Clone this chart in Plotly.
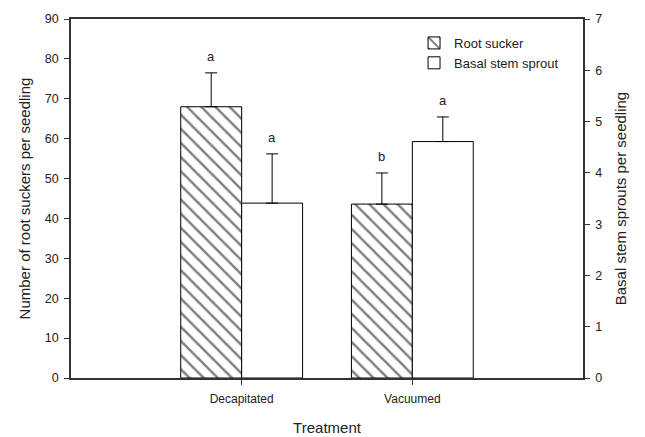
import plotly.graph_objects as go

treatments = ["Decapitated", "Vacuumed"]
root_sucker = [68.0, 43.6]
root_sucker_err = [8.5, 7.8]
root_sucker_letters = ["a", "b"]
basal_sprout = [3.41, 4.61]
basal_sprout_err = [0.96, 0.48]
basal_sprout_letters = ["a", "a"]

W = 0.357
font_family = "Liberation Sans, Arial, sans-serif"
axis_col = "#333333"

fig = go.Figure()
fig.add_trace(go.Bar(
    x=treatments, y=root_sucker, name="Root sucker",
    width=W, offset=-W, yaxis="y",
    marker=dict(color="white", line=dict(color="black", width=1),
                pattern=dict(shape="\\", fgcolor="black", bgcolor="white",
                             size=10, solidity=0.25)),
    error_y=dict(type="data", array=root_sucker_err,
                 arrayminus=[0] * len(root_sucker_err), symmetric=False,
                 color="black", thickness=1, width=6),
))
fig.add_trace(go.Bar(
    x=treatments, y=basal_sprout, name="Basal stem sprout",
    width=W, offset=0, yaxis="y2",
    marker=dict(color="white", line=dict(color="black", width=1)),
    error_y=dict(type="data", array=basal_sprout_err,
                 arrayminus=[0] * len(basal_sprout_err), symmetric=False,
                 color="black", thickness=1, width=6),
))

annotations = []
for i, (v, e, t) in enumerate(zip(root_sucker, root_sucker_err, root_sucker_letters)):
    annotations.append(dict(x=i - W / 2, y=v + e, xref="x", yref="y", text=t,
                            showarrow=False, yanchor="bottom", yshift=7,
                            font=dict(size=13, color="#222")))
for i, (v, e, t) in enumerate(zip(basal_sprout, basal_sprout_err, basal_sprout_letters)):
    annotations.append(dict(x=i + W / 2, y=v + e, xref="x", yref="y2", text=t,
                            showarrow=False, yanchor="bottom", yshift=7,
                            font=dict(size=13, color="#222")))

fig.update_layout(
    width=645, height=437,
    margin=dict(l=71, r=62, t=19, b=59, autoexpand=False),
    paper_bgcolor="white", plot_bgcolor="white",
    font=dict(family=font_family, color="#222", size=12),
    barmode="overlay",
    showlegend=True,
    legend=dict(x=0.67, y=0.975, xanchor="left", yanchor="top",
                bgcolor="rgba(0,0,0,0)", font=dict(size=13),
                tracegroupgap=4, itemwidth=30),
    annotations=annotations,
    xaxis=dict(
        range=[-1, 2], showline=True, linecolor=axis_col, linewidth=1.5,
        mirror=True, ticks="outside", ticklen=5, tickcolor=axis_col,
        showgrid=False, zeroline=False, tickfont=dict(size=12),
        ticklabelstandoff=4, automargin=True,
        title=dict(text="Treatment", font=dict(size=15), standoff=17),
    ),
    yaxis=dict(
        range=[0, 90], dtick=10, showline=True, linecolor=axis_col,
        linewidth=1.5, ticks="outside", ticklen=5, tickcolor=axis_col,
        showgrid=False, zeroline=False, tickfont=dict(size=12.5),
        ticklabelstandoff=3, automargin=False,
        title=dict(text="Number of root suckers per seedling",
                   font=dict(size=15), standoff=11),
    ),
    yaxis2=dict(
        range=[0, 7], dtick=1, overlaying="y", side="right", showline=True,
        linecolor=axis_col, linewidth=1.5, ticks="outside", ticklen=5,
        tickcolor=axis_col, showgrid=False, zeroline=False,
        tickfont=dict(size=12.5), ticklabelstandoff=3, automargin=False,
        title=dict(text="Basal stem sprouts per seedling",
                   font=dict(size=15), standoff=14),
    ),
)

fig.write_html("out.html")
